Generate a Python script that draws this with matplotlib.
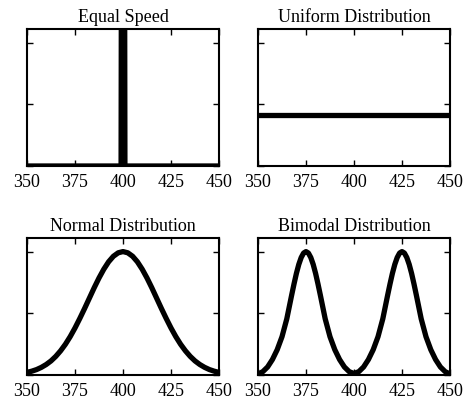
import numpy as np
import matplotlib
matplotlib.use("Agg")
import matplotlib.pyplot as plt

plt.rcParams['font.family'] = ['Liberation Serif', 'DejaVu Serif']

# speed grid for the normal curve, values are relative heights
speeds = np.arange(350, 452.5, 2.5)

# equal speed: everything at 400
equal_x = [350, 399, 400, 401, 450]
equal_y = [0, 0, 10, 0, 0]

# uniform
uniform_x = [350, 450]
uniform_y = [0.41, 0.41]

# normal, peak at 400 (350 -> 397.5 side)
normal_half = [0.021, 0.031, 0.044, 0.062, 0.085, 0.114, 0.151, 0.196, 0.249, 0.311,
               0.381, 0.458, 0.539, 0.623, 0.707, 0.786, 0.857, 0.917, 0.962, 0.990]
normal_y = normal_half + [1.0] + normal_half[::-1]

# bimodal, peaks at 375 and 425: distance from a peak and the height read there
flank_d = [25, 22.5, 20, 17.5, 15, 12.5, 10, 7.5, 6.25, 5, 3.75, 2.5, 1.25]
flank_h = [0.008, 0.027, 0.065, 0.125, 0.205, 0.31, 0.455, 0.645, 0.737, 0.823, 0.896, 0.952, 0.988]
peaks = [375, 425]

bimodal_x, bimodal_y = [], []
for p in peaks:
    bimodal_x += [p - d for d in flank_d] + [p] + [p + d for d in flank_d[::-1]]
    bimodal_y += flank_h + [1.0] + flank_h[::-1]
# the two flanks meet at 400
mid = bimodal_x.index(400)
bimodal_x.pop(mid)
bimodal_y.pop(mid)
bimodal_y[mid] = 0.012

titles = ['Equal Speed', 'Uniform Distribution', 'Normal Distribution', 'Bimodal Distribution']
xticks = [350, 375, 400, 425, 450]

fig = plt.figure(figsize=(4.76, 4.0), dpi=100)
rects = [
    [27 / 476, 1 - 166 / 400, 192 / 476, 137 / 400],
    [258 / 476, 1 - 166 / 400, 192 / 476, 137 / 400],
    [27 / 476, 1 - 375 / 400, 192 / 476, 137 / 400],
    [258 / 476, 1 - 375 / 400, 192 / 476, 137 / 400],
]
data = [(equal_x, equal_y), (uniform_x, uniform_y), (speeds, normal_y), (bimodal_x, bimodal_y)]

for rect, (x, y), title in zip(rects, data, titles):
    ax = fig.add_axes(rect)
    ax.plot(x, y, color='black', lw=3.8, solid_joinstyle='round')
    ax.set_xlim(350, 450)
    ax.set_ylim(0, 1.11)
    ax.set_xticks(xticks)
    ax.set_yticks([0, 0.5, 1.0])
    ax.set_yticklabels([])
    ax.tick_params(direction='in', top=True, right=True, length=4, width=1,
                   labelsize=13, pad=6)
    for s in ax.spines.values():
        s.set_linewidth(1.5)
    ax.set_title(title, fontsize=13, pad=5)

fig.savefig('out.png', dpi=100)
